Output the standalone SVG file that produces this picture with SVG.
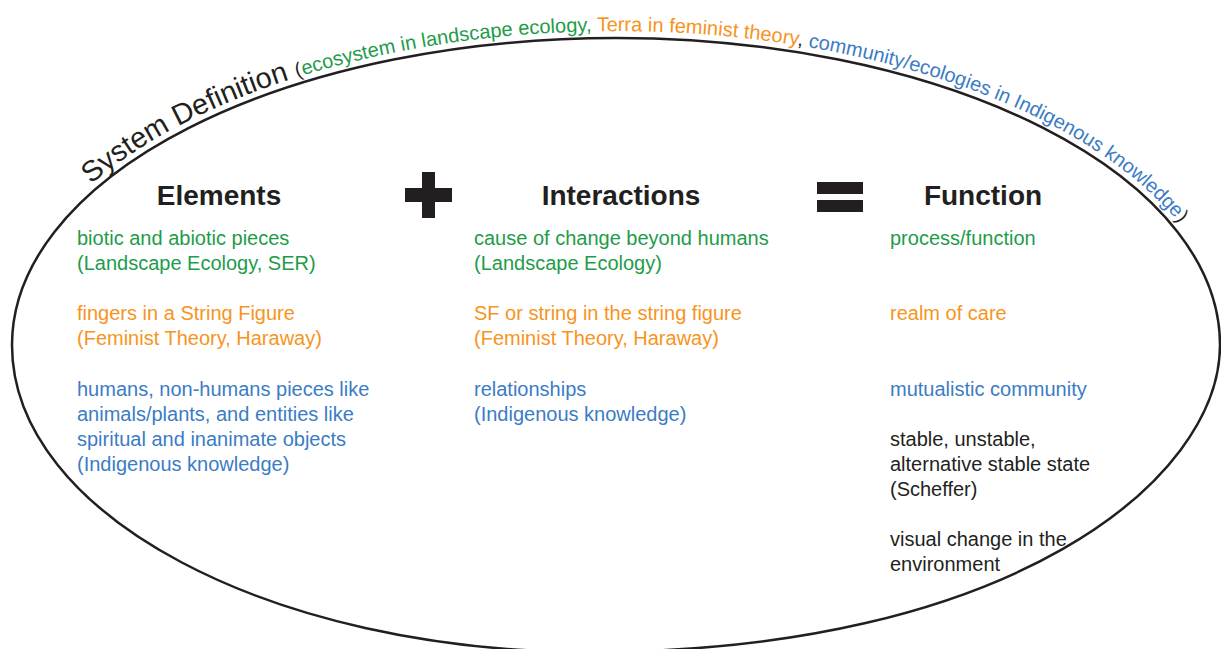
<svg xmlns="http://www.w3.org/2000/svg" xmlns:xlink="http://www.w3.org/1999/xlink" width="1221" height="649" viewBox="0 0 1221 649">
  <style>
    .txt { font-family: "Liberation Sans", Arial, sans-serif; font-size: 20px; }
    .head { font-family: "Liberation Sans", Arial, sans-serif; font-size: 28px; font-weight: bold; fill: #231f20; text-anchor: middle; }
    .green { fill: #1e9c4a; }
    .orange { fill: #f7941e; }
    .blue { fill: #3b7cc5; }
    .dark { fill: #231f20; }
    .sign { fill: #231f20; }
  </style>
  <defs>
    <!-- baseline for the curved title, just outside the system outline -->
    <path id="titleArc" d="M 5 345 A 611 314 0 0 1 1227 345"/>
  </defs>

  <rect x="0" y="0" width="1221" height="649" fill="#ffffff"/>

  <!-- system boundary: elliptical top, slightly flattened lower right -->
  <g id="system-outline">
    <path d="M 12 345 A 604 307 0 0 1 1220 345 C 1220 480 1010 652 590 652 C 271 652 12 515 12 345 Z" fill="none" stroke="#231f20" stroke-width="2.5"/>
  </g>

  <!-- curved title -->
  <g id="system-title">
    <text class="txt">
      <textPath xlink:href="#titleArc" href="#titleArc" startOffset="188">
        <tspan class="dark" font-size="29">System Definition </tspan><tspan class="dark">(</tspan><tspan class="green">ecosystem in landscape ecology, </tspan><tspan class="orange">Terra in feminist theory</tspan><tspan class="dark">, </tspan><tspan class="blue">community/ecologies in Indigenous knowledge</tspan><tspan class="dark">)</tspan>
      </textPath>
    </text>
  </g>

  <!-- Elements column -->
  <g id="elements">
    <text class="head" x="219" y="205">Elements</text>
    <text class="txt green"><tspan x="77" y="245">biotic and abiotic pieces</tspan><tspan x="77" y="270">(Landscape Ecology, SER)</tspan></text>
    <text class="txt orange"><tspan x="77" y="320">fingers in a String Figure</tspan><tspan x="77" y="345">(Feminist Theory, Haraway)</tspan></text>
    <text class="txt blue"><tspan x="77" y="396">humans, non-humans pieces like</tspan><tspan x="77" y="421">animals/plants, and entities like</tspan><tspan x="77" y="446">spiritual and inanimate objects</tspan><tspan x="77" y="471">(Indigenous knowledge)</tspan></text>
  </g>

  <!-- plus sign -->
  <g id="plus-sign" class="sign">
    <rect x="422" y="172" width="13" height="46"/>
    <rect x="405" y="188" width="47" height="14"/>
  </g>

  <!-- Interactions column -->
  <g id="interactions">
    <text class="head" x="621" y="205">Interactions</text>
    <text class="txt green"><tspan x="474" y="245">cause of change beyond humans</tspan><tspan x="474" y="270">(Landscape Ecology)</tspan></text>
    <text class="txt orange"><tspan x="474" y="320">SF or string in the string figure</tspan><tspan x="474" y="345">(Feminist Theory, Haraway)</tspan></text>
    <text class="txt blue"><tspan x="474" y="396">relationships</tspan><tspan x="474" y="421">(Indigenous knowledge)</tspan></text>
  </g>

  <!-- equals sign -->
  <g id="equals-sign" class="sign">
    <rect x="817" y="182" width="46" height="12"/>
    <rect x="817" y="200" width="46" height="12"/>
  </g>

  <!-- Function column -->
  <g id="function">
    <text class="head" x="983" y="205">Function</text>
    <text class="txt green" x="890" y="245">process/function</text>
    <text class="txt orange" x="890" y="320">realm of care</text>
    <text class="txt blue" x="890" y="396">mutualistic community</text>
    <text class="txt dark"><tspan x="890" y="446">stable, unstable,</tspan><tspan x="890" y="471">alternative stable state</tspan><tspan x="890" y="496">(Scheffer)</tspan></text>
    <text class="txt dark"><tspan x="890" y="546">visual change in the</tspan><tspan x="890" y="571">environment</tspan></text>
  </g>
</svg>
